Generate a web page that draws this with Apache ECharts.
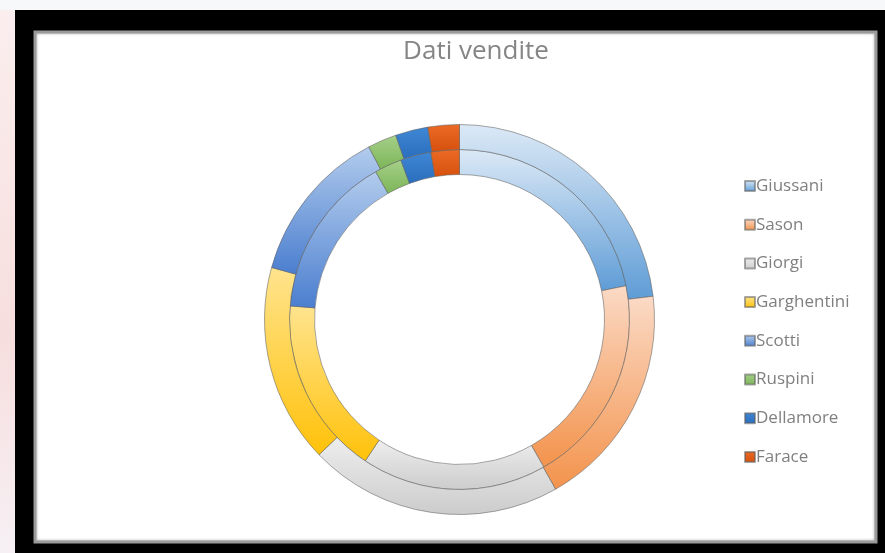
<!DOCTYPE html>
<html>
<head>
<meta charset="utf-8">
<script src="https://cdn.jsdelivr.net/npm/echarts@6/dist/echarts.min.js"></script>
<style>
  html, body { margin: 0; padding: 0; background: #f6f8fa; }
  #chart { width: 885px; height: 553px; }
</style>
</head>
<body>
<div id="chart"></div>
<script>
// venditori (ordine Excel: dalle 12 in senso orario)
var names = ['Giussani', 'Sason', 'Giorgi', 'Garghentini', 'Scotti', 'Ruspini', 'Dellamore', 'Farace'];
// anello interno (prima serie) e anello esterno (seconda serie), in %
var innerValues = [21.8, 19.9, 17.6, 16.9, 15.5, 2.6, 2.9, 2.7];
var outerValues = [23.1, 18.7, 21.0, 16.5, 13.0, 2.4, 2.7, 2.6];

// colori sfumati stile Office (chiaro in alto, scuro in basso)
var palette = [
  ['#dce9f6', '#5e9cd6'],
  ['#fbdac6', '#f3934c'],
  ['#eeeeee', '#cccccc'],
  ['#ffe48e', '#ffc10a'],
  ['#b3cced', '#4a7ecf'],
  ['#a6d08a', '#7cb557'],
  ['#3f88d6', '#2a6dbd'],
  ['#ea6b26', '#d6500d']
];

function buildData(values) {
  return names.map(function (n, i) {
    return {
      name: n,
      value: values[i],
      itemStyle: {
        color: new echarts.graphic.LinearGradient(0, 0, 0, 1, [
          { offset: 0, color: palette[i][0] },
          { offset: 1, color: palette[i][1] }
        ])
      }
    };
  });
}

var chart = echarts.init(document.getElementById('chart'), null, { renderer: 'canvas' });

var ringStyle = {
  borderColor: 'rgba(95,95,95,0.55)',
  borderWidth: 1
};

var option = {
  backgroundColor: '#f6f8fa',
  animation: false,
  graphic: {
    elements: [
      // striscia rosata a sinistra
      { type: 'rect', z: -10, shape: { x: 0, y: 10, width: 15, height: 543 },
        style: { fill: new echarts.graphic.LinearGradient(0, 0, 0, 1, [
          { offset: 0, color: '#fbeeee' }, { offset: 0.6, color: '#f7dede' }, { offset: 1, color: '#f6f0f4' }
        ]) } },
      // cornice nera
      { type: 'rect', z: -9, shape: { x: 15, y: 10, width: 870, height: 543 },
        style: { fill: '#000000' } },
      // area del grafico
      { type: 'rect', z: -8, shape: { x: 35, y: 32, width: 841, height: 510 },
        style: { fill: '#ffffff', stroke: '#9a9a9a', lineWidth: 3,
          shadowBlur: 3, shadowColor: 'rgba(0,0,0,0.35)' } }
    ]
  },
  title: {
    text: 'Dati vendite',
    left: 471,
    top: 34,
    textAlign: 'center',
    textStyle: {
      color: '#858585',
      fontFamily: 'Open Sans',
      fontWeight: 'normal',
      fontSize: 26
    }
  },
  legend: {
    orient: 'vertical',
    left: 739,
    top: 170,
    itemWidth: 10,
    itemHeight: 10,
    itemGap: 16.7,
    icon: 'rect',
    selectedMode: false,
    data: names,
    textStyle: {
      color: '#808080',
      fontFamily: 'Open Sans',
      fontSize: 17,
      lineHeight: 22,
      padding: [0, 0, 0, -4]
    }
  },
  series: [
    {
      name: 'Interno',
      type: 'pie',
      center: [459.5, 319.5],
      radius: [145, 170],
      startAngle: 90,
      clockwise: true,
      avoidLabelOverlap: false,
      label: { show: false },
      labelLine: { show: false },
      emphasis: { disabled: true },
      itemStyle: ringStyle,
      data: buildData(innerValues)
    },
    {
      name: 'Esterno',
      type: 'pie',
      center: [459.5, 319.5],
      radius: [170, 195],
      startAngle: 90,
      clockwise: true,
      avoidLabelOverlap: false,
      label: { show: false },
      labelLine: { show: false },
      emphasis: { disabled: true },
      itemStyle: ringStyle,
      data: buildData(outerValues)
    }
  ]
};

chart.setOption(option);
</script>
</body>
</html>
